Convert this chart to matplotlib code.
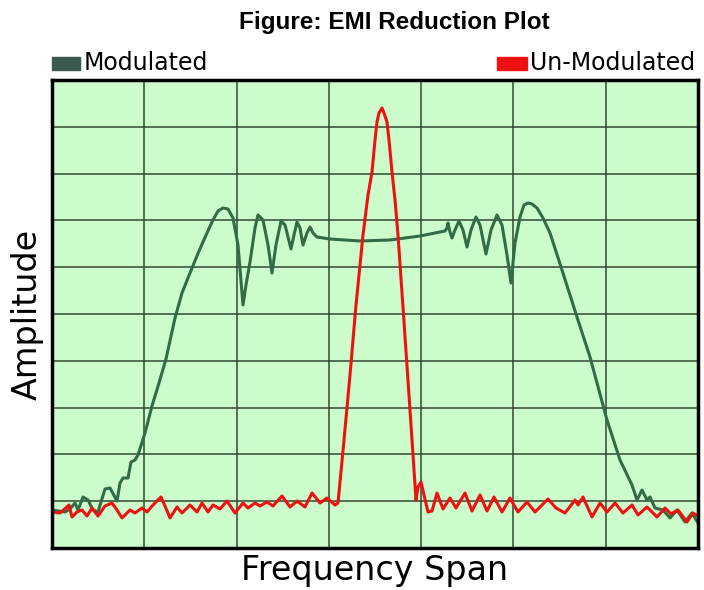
import matplotlib.pyplot as plt
import numpy as np
from matplotlib.patches import Rectangle

# frequency span / amplitude (plot units: 7 x 10 grid cells)
span_x = 646
span_y = 468

# Modulated (spread spectrum) curve
mod_x = [0, 13, 18, 23, 26, 31, 36, 41, 46, 53, 58, 65, 68, 71, 76, 79, 83, 86,
         93, 100, 107, 114, 123, 130, 138, 147, 155, 161, 166, 171, 176, 181,
         186, 191, 194, 198, 203, 206, 211, 216, 220, 224, 229, 233, 239, 242,
         245, 248, 251, 255, 258, 261, 265, 278, 308, 338, 368, 393, 395, 396,
         398, 400, 403, 407, 411, 415, 419, 424, 428, 434, 439, 445, 450, 455,
         459, 463, 468, 472, 476, 480, 485, 491, 498, 510, 525, 538, 555, 568,
         580, 585, 590, 595, 598, 603, 611, 618, 625, 633, 640, 646]
mod_y = [38, 36, 39, 45, 38, 51, 48, 38, 36, 59, 60, 47, 65, 70, 70, 86, 88, 93,
         115, 142, 165, 189, 230, 255, 275, 297, 315, 328, 337, 340, 339, 330,
         303, 243, 263, 286, 320, 333, 328, 303, 275, 303, 327, 323, 299, 313,
         326, 320, 303, 315, 321, 315, 311, 309, 307, 308, 312, 317, 320, 325,
         316, 310, 318, 327, 318, 301, 318, 331, 323, 294, 318, 333, 323, 293,
         265, 305, 331, 343, 345, 344, 340, 330, 315, 278, 231, 191, 128, 88,
         63, 48, 58, 48, 51, 40, 38, 30, 38, 26, 35, 25]

# Un-modulated carrier curve
unmod_x = [0, 8, 15, 17, 20, 25, 30, 35, 40, 46, 53, 60, 65, 70, 78, 83, 90, 95,
           101, 109, 116, 118, 125, 130, 138, 145, 150, 156, 161, 168, 175, 183,
           191, 196, 203, 208, 215, 221, 230, 238, 245, 253, 260, 268, 275, 283,
           286, 292, 298, 304, 311, 316, 320, 323, 325, 327, 330, 332, 335, 337,
           340, 343, 346, 352, 358, 364, 366, 369, 372, 376, 380, 385, 391, 398,
           404, 413, 420, 428, 435, 442, 450, 458, 466, 475, 483, 496, 504, 513,
           523, 526, 531, 540, 548, 555, 563, 571, 580, 586, 595, 605, 613, 619,
           626, 635, 641, 646]
unmod_y = [36, 35, 41, 43, 31, 36, 38, 32, 40, 32, 42, 45, 38, 30, 38, 35, 40, 36,
           43, 51, 35, 30, 41, 35, 43, 36, 45, 36, 43, 39, 47, 35,
           45, 40, 45, 42, 46, 42, 52, 41, 47, 41, 55, 45, 50, 43,
           45, 108, 173, 243, 313, 353, 376, 408, 426, 435, 440, 435, 426, 408,
           376, 348, 313, 226, 138, 48, 61, 66, 53, 36, 37, 55, 39, 50,
           40, 55, 37, 53, 37, 51, 36, 50, 36, 46, 36, 49, 40, 35,
           48, 43, 51, 31, 45, 36, 45, 35, 43, 33, 41, 31, 40, 34,
           38, 26, 35, 32]

mod_color = '#336b45'
mod_patch = '#3b5a4b'
unmod_color = '#ee1111'

fig = plt.figure(figsize=(7.04, 5.9), dpi=100)
ax = fig.add_axes([52 / 704, 42 / 590, 646 / 704, 468 / 590])
ax.set_facecolor('#ccfccc')

ax.plot(mod_x, mod_y, color=mod_color, lw=2.2, solid_joinstyle='round',
        solid_capstyle='round')
ax.plot(unmod_x, unmod_y, color=unmod_color, lw=2.2, solid_joinstyle='round',
        solid_capstyle='round')

ax.set_xlim(0, span_x)
ax.set_ylim(0, span_y)
ax.set_xticks(np.linspace(0, span_x, 8))
ax.set_yticks(np.linspace(0, span_y, 11))
ax.tick_params(length=0, labelbottom=False, labelleft=False)
ax.grid(True, color='#2f4a2f', lw=1.1)
ax.set_axisbelow(True)
for s in ax.spines.values():
    s.set_linewidth(2.5)
    s.set_color('black')

ax.set_xlabel('Frequency Span', fontsize=24, family='DejaVu Sans', labelpad=4)
ax.set_ylabel('Amplitude', fontsize=24, family='DejaVu Sans', labelpad=6)

fig.text(394 / 704, 1 - 22 / 590, 'Figure: EMI Reduction Plot', ha='center', va='center',
         fontsize=17.5, fontweight='bold', family='Liberation Sans')

# legend
fig.add_artist(Rectangle((52 / 704, 1 - 70 / 590), 28 / 704, 13 / 590,
                         transform=fig.transFigure, color=mod_patch))
fig.text(84 / 704, 1 - 63 / 590, 'Modulated', ha='left', va='center', fontsize=17)
fig.add_artist(Rectangle((497 / 704, 1 - 70 / 590), 30 / 704, 13 / 590,
                         transform=fig.transFigure, color=unmod_color))
fig.text(530 / 704, 1 - 63 / 590, 'Un-Modulated', ha='left', va='center', fontsize=17)

fig.savefig('out.png', dpi=100, facecolor='white')
